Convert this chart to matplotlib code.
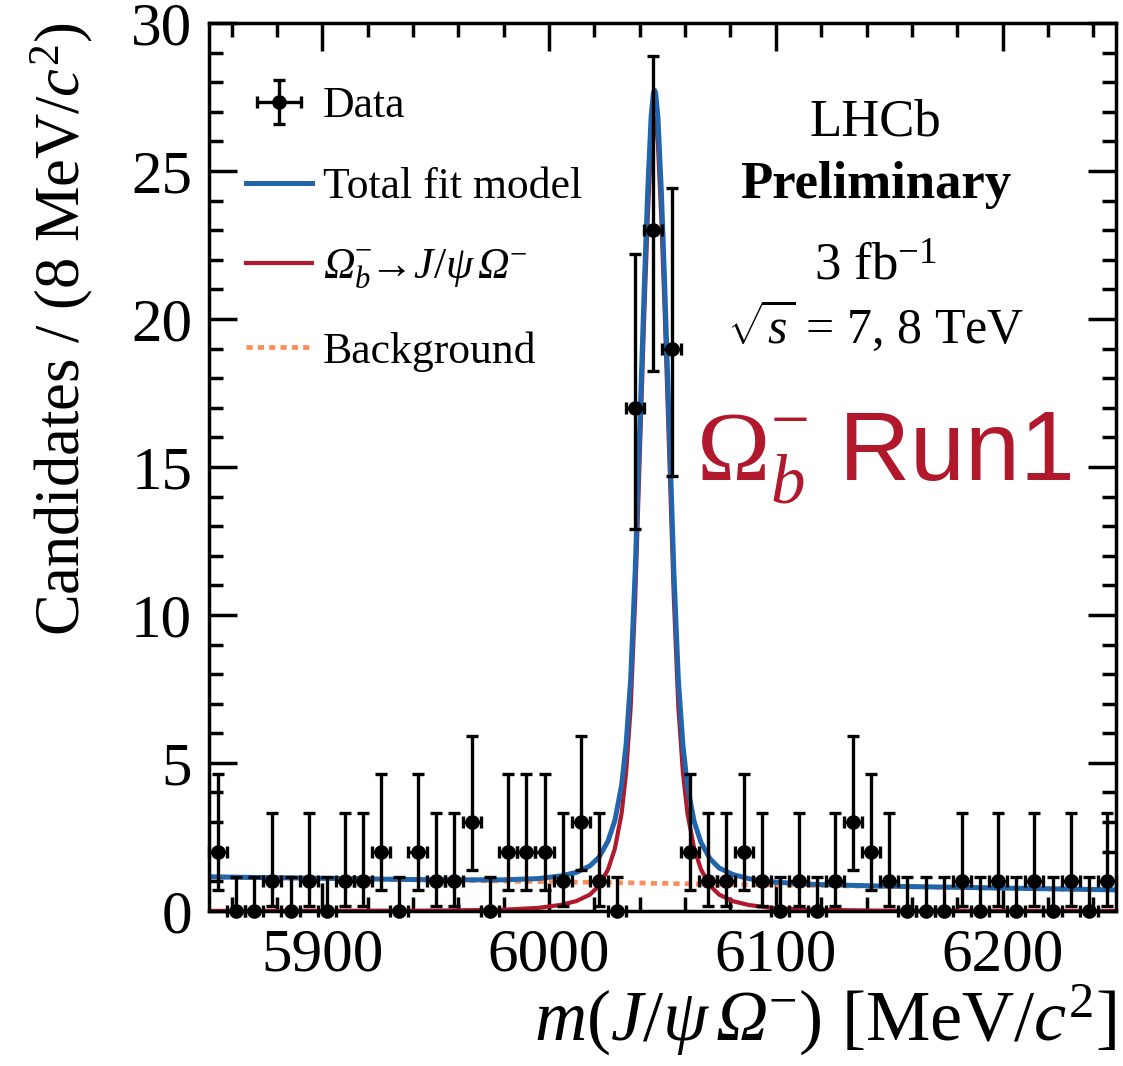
import numpy as np
import matplotlib
matplotlib.use("Agg")
import matplotlib.pyplot as plt
from matplotlib.ticker import MultipleLocator

plt.rcParams['font.family'] = ['Liberation Serif', 'DejaVu Serif']
plt.rcParams['mathtext.fontset'] = 'custom'
plt.rcParams['mathtext.rm'] = 'Liberation Serif'
plt.rcParams['mathtext.it'] = 'Liberation Serif:italic'
plt.rcParams['mathtext.bf'] = 'Liberation Serif:bold'
# italic capital Greek (Omega) through the sf slot
plt.rcParams['mathtext.sf'] = 'Liberation Serif:italic'

# binned data, 8 MeV bins from 5850 to 6250
bin_centers = np.arange(5854, 6250, 8)
counts = [2, 0, 0, 1, 0, 1, 0, 1, 1, 2,
          0, 2, 1, 1, 3, 0, 2, 2, 2, 1,
          3, 1, 0, 17, 23, 19, 2, 1, 1, 2,
          1, 0, 1, 0, 1, 3, 2, 1, 0, 0,
          0, 1, 0, 1, 0, 1, 0, 1, 0, 1]

# Poisson intervals used for the error bars (lower, upper)
poisson_low = {0: 0.0, 1: 0.827, 2: 1.292, 3: 1.633, 17: 4.082, 19: 4.320, 23: 4.765}
poisson_high = {0: 1.148, 1: 2.299, 2: 2.638, 3: 2.918, 17: 5.203, 19: 5.435, 23: 5.876}

# fit curves
fit_x = [5850, 5950, 5980, 5995, 6005, 6012, 6018, 6022, 6026, 6029, 6032, 6034,
         6036, 6038, 6040, 6042, 6043.5, 6045, 6046, 6046.5, 6047, 6048, 6049.5,
         6051, 6053, 6055, 6057, 6059, 6061, 6064, 6067, 6071, 6075, 6081, 6088,
         6098, 6115, 6145, 6250]
sig_y = [0.0, 0.01, 0.04, 0.1, 0.2, 0.33, 0.55, 0.85, 1.4, 2.1, 3.3, 4.7,
         6.9, 10.6, 15.4, 20.2, 23.4, 25.9, 26.7, 26.8, 26.7, 25.9, 23.4,
         20.2, 15.4, 10.6, 6.9, 4.7, 3.3, 2.1, 1.4, 0.85, 0.55, 0.33, 0.2,
         0.1, 0.04, 0.01, 0.0]
bkg_y = [1.15, 1.04, 1.01, 0.99, 0.98, 0.97, 0.97, 0.96, 0.96, 0.95, 0.95, 0.95,
         0.95, 0.94, 0.94, 0.94, 0.94, 0.93, 0.93, 0.93, 0.93, 0.93, 0.93,
         0.93, 0.93, 0.92, 0.92, 0.92, 0.92, 0.91, 0.91, 0.91, 0.90, 0.90, 0.89,
         0.88, 0.86, 0.83, 0.71]

x_range = (5850, 6250)
y_range = (0, 30)

c_blue = '#2166AC'
c_red = '#B2182B'
c_orange = '#FC8D59'

counts = np.array(counts)
yerr = np.array([[poisson_low[n] for n in counts], [poisson_high[n] for n in counts]])
tot_y = np.array(sig_y) + np.array(bkg_y)

fig = plt.figure(figsize=(11.23, 10.66), dpi=100)
ax = fig.add_axes([0.186, 0.1455, 0.8078, 0.833])

bkg_line, = ax.plot(fit_x, bkg_y, color=c_orange, lw=3.4, dashes=(1.3, 1.1), label='Background')
sig_line, = ax.plot(fit_x, sig_y, color=c_red, lw=3.0,
                    label=r'$\mathsf{\Omega}_{b}^{-}\!\!\rightarrow\! J/\psi\,\mathsf{\Omega}^{-}$')
tot_line, = ax.plot(fit_x, tot_y, color=c_blue, lw=3.6, label='Total fit model')
data = ax.errorbar(bin_centers, counts, yerr=yerr, xerr=4, fmt='o', color='black',
                   ms=9.5, elinewidth=2.4, capsize=4, capthick=2.4, clip_on=False,
                   label='Data', zorder=5)
for art in data.lines[1] + data.lines[2]:
    art.set_clip_on(False)

ax.set_xlim(*x_range)
ax.set_ylim(*y_range)
ax.xaxis.set_major_locator(MultipleLocator(100))
ax.xaxis.set_minor_locator(MultipleLocator(20))
ax.yaxis.set_major_locator(MultipleLocator(5))
ax.yaxis.set_minor_locator(MultipleLocator(1))
ax.tick_params(which='both', direction='in', top=True, right=True, width=2.5, labelsize=44)
ax.tick_params(which='major', length=20, pad=12)
ax.tick_params(which='minor', length=10)
for sp in ax.spines.values():
    sp.set_linewidth(2.5)

ax.set_xlabel(r'$m(J/\psi\,\mathsf{\Omega}^{-})$ [MeV/$c^2$]', fontsize=52, loc='right', labelpad=0)
ax.set_ylabel(r'Candidates / (8 MeV/$c^2$)', fontsize=45, loc='top', labelpad=26)

leg = ax.legend(handles=[data, tot_line, sig_line, bkg_line], loc='upper left',
                bbox_to_anchor=(-0.012, 0.983), fontsize=31.5, frameon=False,
                handlelength=1.5, handletextpad=0.25, labelspacing=0.93, borderpad=0.6)

ax.text(0.735, 0.888, 'LHCb', transform=ax.transAxes, ha='center', va='center', fontsize=38)
ax.text(0.735, 0.818, 'Preliminary', transform=ax.transAxes, ha='center', va='center',
        fontsize=38, fontweight='bold')
ax.text(0.735, 0.725, r'3 fb$^{-1}$', transform=ax.transAxes, ha='center', va='center', fontsize=38)
ax.text(0.735, 0.658, r'$\sqrt{s}$ = 7, 8 TeV', transform=ax.transAxes, ha='center', va='center',
        fontsize=36)
ax.text(0.537, 0.51, r'$\Omega_b^{-}$ Run1', transform=ax.transAxes, ha='left', va='center',
        fontsize=71, color=c_red, family='Liberation Sans')

fig.savefig('out.png', dpi=100)
